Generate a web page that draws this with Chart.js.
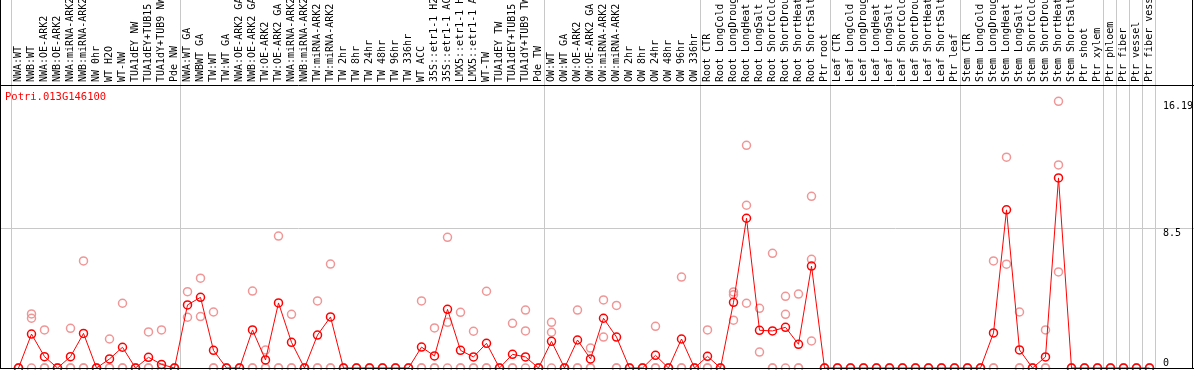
<!DOCTYPE html>
<html>
<head>
<meta charset="utf-8">
<script src="https://cdn.jsdelivr.net/npm/chart.js@4/dist/chart.umd.min.js"></script>
<style>
    body { margin: 0; background: #fff; }
    #box { width: 1194px; height: 370px; }
</style>
</head>
<body>
<div id="box"><canvas id="myChart"></canvas></div>
<script>
const geneName = 'Potri.013G146100';

const samples = [
    'NWA:WT', 'NWB:WT', 'NWA:OE-ARK2', 'NWB:OE-ARK2', 'NWA:miRNA-ARK2', 'NWB:miRNA-ARK2', 'NW 0hr', 'WT H2O', 'WT-NW',
    'TUA1dEY NW', 'TUA1dEY+TUB15 NW', 'TUA1dY+TUB9 NW', 'Pde NW',
    'NWA:WT GA', 'NWBWT GA', 'TW:WT', 'TW:WT GA', 'NWA:OE-ARK2 GA', 'NWB:OE-ARK2 GA', 'TW:OE-ARK2', 'TW:OE-ARK2 GA',
    'NWA:miRNA-ARK2 GA', 'NWB:miRNA-ARK2 GA', 'TW:miRNA-ARK2', 'TW:miRNA-ARK2 GA',
    'TW 2hr', 'TW 8hr', 'TW 24hr', 'TW 48hr', 'TW 96hr', 'TW 336hr', 'WT ACC',
    '35S::etr1-1 H2O', '35S::etr1-1 ACC', 'LMX5::etr1-1 H2O', 'LMX5::etr1-1 ACC', 'WT-TW',
    'TUA1dEY TW', 'TUA1dEY+TUB15 TW', 'TUA1dY+TUB9 TW', 'Pde TW',
    'OW:WT', 'OW:WT GA', 'OW:OE-ARK2', 'OW:OE-ARK2 GA', 'OW:miRNA-ARK2', 'OW:miRNA-ARK2 GA',
    'OW 2hr', 'OW 8hr', 'OW 24hr', 'OW 48hr', 'OW 96hr', 'OW 336hr',
    'Root CTR', 'Root LongCold', 'Root LongDrought', 'Root LongHeat', 'Root LongSalt',
    'Root ShortCold', 'Root ShortDrought', 'Root ShortHeat', 'Root ShortSalt', 'Ptr root',
    'Leaf CTR', 'Leaf LongCold', 'Leaf LongDrought', 'Leaf LongHeat', 'Leaf LongSalt',
    'Leaf ShortCold', 'Leaf ShortDrought', 'Leaf ShortHeat', 'Leaf ShortSalt', 'Ptr leaf',
    'Stem CTR', 'Stem LongCold', 'Stem LongDrought', 'Stem LongHeat', 'Stem LongSalt',
    'Stem ShortCold', 'Stem ShortDrought', 'Stem ShortHeat', 'Stem ShortSalt', 'Ptr shoot', 'Ptr xylem',
    'Ptr phloem', 'Ptr fiber', 'Ptr vessel', 'Ptr fiber vessel'
];

// number of samples in each block between the grey separators
const groupSizes = [13, 28, 12, 10, 10, 11, 1, 1, 1, 1];

const meanValues = [
    0, 2.06, 0.69, 0, 0.69, 2.1, 0, 0.55, 1.26, 0, 0.65, 0.22, 0,
    3.83, 4.29, 1.07, 0, 0, 2.31, 0.49, 3.95, 1.56, 0, 2.0, 3.1, 0, 0, 0, 0, 0, 0, 1.27, 0.73, 3.56, 1.07, 0.67, 1.5, 0, 0.83, 0.67, 0,
    1.62, 0, 1.7, 0.55, 3.02, 1.88, 0, 0, 0.77, 0, 1.76, 0,
    0.71, 0, 3.99, 9.09, 2.29, 2.25, 2.47, 1.44, 6.19, 0,
    0, 0, 0, 0, 0, 0, 0, 0, 0, 0,
    0, 0, 2.13, 9.6, 1.1, 0, 0.67, 11.54, 0, 0, 0,
    0, 0, 0, 0
];

const rep1 = [
    0, 3.28, 2.31, 0, 2.41, 6.5, 0, 1.76, 3.93, 0, 2.19, 2.31, 0,
    4.63, 5.45, 3.4, 0, 0, 4.67, 1.09, 8.01, 3.26, 0, 4.07, 6.31, 0, 0, 0, 0, 0, 0, 4.07, 2.43, 7.93, 3.38, 2.23, 4.66, 0, 2.71, 3.52, 0,
    2.77, 0, 3.52, 1.21, 4.13, 3.8, 0, 0, 2.53, 0, 5.52, 0,
    2.31, 0, 4.62, 13.52, 3.62, 6.96, 4.35, 4.49, 10.42, 0,
    0, 0, 0, 0, 0, 0, 0, 0, 0, 0,
    0, 0, 6.5, 12.8, 3.4, 0, 2.31, 16.19, 0, 0, 0,
    0, 0, 0, 0
];

const rep2 = [
    0, 3.02, 0, 0, 0, 0, 0, 0, 0, 0, 0, 0, 0,
    3.08, 3.12, 0, 0, 0, 0, 0, 0, 0, 0, 0, 0, 0, 0, 0, 0, 0, 0, 0, 0, 2.77, 0, 0, 0, 0, 0, 2.25, 0,
    2.17, 0, 0, 0, 1.88, 0, 0, 0, 0, 0, 0, 0,
    0, 0, 4.45, 9.88, 0.97, 0, 3.26, 0, 6.6, 0,
    0, 0, 0, 0, 0, 0, 0, 0, 0, 0,
    0, 0, 0, 6.3, 0, 0, 0, 12.33, 0, 0, 0,
    0, 0, 0, 0
];

const rep3 = [
    0, 0, 0, 0, 0, 0, 0, 0, 0, 0, 0, 0, 0,
    null, null, 0, 0, 0, 0, 0, 0, 0, 0, 0, 0, 0, 0, 0, 0, 0, 0, 0, 0, 0, 0, 0, 0, 0, 0, 0, 0,
    0, 0, 0, 0, null, 0, 0, 0, 0, 0, 0, 0,
    0, 0, 2.9, 3.93, null, 0, 0, 0, 1.64, 0,
    0, 0, 0, 0, 0, 0, 0, 0, 0, 0,
    0, 0, 0, null, 0, 0, 0, 5.83, 0, 0, 0,
    0, 0, 0, 0
];

const yTicks = [0, 8.5, 16.19];
const yMax = 17.18;

window.onload = function () {
    const monoFont = '"DejaVu Sans Mono", monospace';

    // grey block separators and the 8.5 line, behind the points
    const backLines = {
        id: 'backLines',
        beforeDatasetsDraw(chart) {
            const { ctx, width, chartArea: { bottom }, scales: { x, y } } = chart;
            ctx.save();
            ctx.strokeStyle = 'rgb(200, 200, 200)';
            ctx.lineWidth = 1;
            ctx.beginPath();
            let k = 0;
            const edges = [0];
            groupSizes.forEach(s => { k += s; edges.push(k); });
            edges.forEach(e => {
                const px = Math.round(x.getPixelForValue(e - 0.5)) - 0.5;
                ctx.moveTo(px, 0);
                ctx.lineTo(px, bottom);
            });
            const gy = Math.round(y.getPixelForValue(8.5)) + 0.5;
            ctx.moveTo(0, gy);
            ctx.lineTo(width, gy);
            ctx.stroke();
            ctx.restore();
        }
    };

    const frameText = {
        id: 'frameText',
        afterDraw(chart) {
            const { ctx, width, chartArea: { top, bottom, right }, scales: { y } } = chart;
            ctx.save();
            ctx.strokeStyle = '#000';
            ctx.lineWidth = 1;
            ctx.beginPath();
            ctx.moveTo(0, Math.round(top) + 0.5);
            ctx.lineTo(width, Math.round(top) + 0.5);
            ctx.moveTo(0, Math.round(bottom) + 0.5);
            ctx.lineTo(width, Math.round(bottom) + 0.5);
            ctx.moveTo(0.5, 0);
            ctx.lineTo(0.5, bottom);
            ctx.moveTo(width - 1.5, 0);
            ctx.lineTo(width - 1.5, bottom);
            ctx.stroke();

            ctx.font = '10px ' + monoFont;
            ctx.fillStyle = '#000';
            ctx.textAlign = 'left';
            yTicks.forEach(v => {
                const py = y.getPixelForValue(v);
                if (v === 0) {
                    ctx.textBaseline = 'alphabetic';
                    ctx.fillText(String(v), right + 7, py - 2);
                } else {
                    ctx.textBaseline = 'top';
                    ctx.fillText(String(v), right + 7, py);
                }
            });

            ctx.font = '10.5px ' + monoFont;
            ctx.fillStyle = 'rgb(255, 0, 0)';
            ctx.textBaseline = 'middle';
            ctx.fillText(geneName, 5, top + 12);
            ctx.restore();
        }
    };

    const repStyle = {
        type: 'line',
        showLine: false,
        pointRadius: 4,
        pointHoverRadius: 4,
        pointBorderWidth: 1.5,
        pointBorderColor: 'rgb(240, 150, 150)',
        pointBackgroundColor: 'rgba(0, 0, 0, 0)',
        clip: false
    };

    var ctx = document.getElementById('myChart');
    var myChart = new Chart(ctx, {
        type: 'line',
        data: {
            labels: samples,
            datasets: [{
                label: 'mean',
                data: meanValues,
                borderColor: 'rgb(255, 0, 0)',
                borderWidth: 1,
                tension: 0,
                pointRadius: 4,
                pointHoverRadius: 4,
                pointBorderWidth: 1.5,
                pointBorderColor: 'rgb(255, 0, 0)',
                pointBackgroundColor: 'rgba(0, 0, 0, 0)',
                clip: false
            },
            Object.assign({ label: 'rep 1', data: rep1 }, repStyle),
            Object.assign({ label: 'rep 2', data: rep2 }, repStyle),
            Object.assign({ label: 'rep 3', data: rep3 }, repStyle)
            ]
        },
        options: {
            responsive: true,
            maintainAspectRatio: false,
            animation: false,
            layout: {
                autoPadding: false,
                padding: { left: 12, right: 0, top: 0, bottom: 2 }
            },
            plugins: {
                legend: { display: false },
                tooltip: { enabled: false }
            },
            scales: {
                x: {
                    type: 'category',
                    position: 'top',
                    offset: true,
                    grid: { display: false, drawTicks: false },
                    border: { display: false },
                    ticks: {
                        autoSkip: false,
                        minRotation: 90,
                        maxRotation: 90,
                        padding: 3,
                        labelOffset: 12,
                        color: '#000',
                        font: { family: monoFont, size: 10 }
                    },
                    afterFit(scale) { scale.height = 85; }
                },
                y: {
                    position: 'right',
                    min: 0,
                    max: yMax,
                    grid: { display: false, drawTicks: false },
                    border: { display: false },
                    ticks: { display: false },
                    afterFit(scale) { scale.width = 38; }
                }
            }
        },
        plugins: [backLines, frameText]
    });
};
</script>
</body>
</html>
